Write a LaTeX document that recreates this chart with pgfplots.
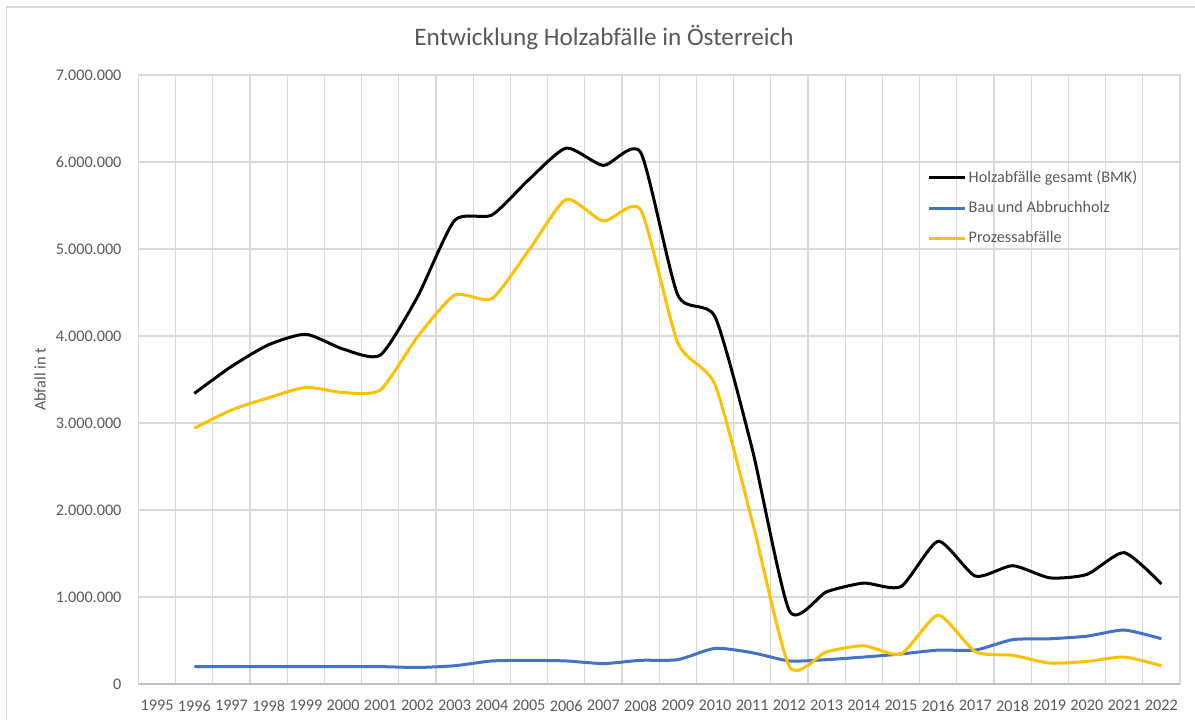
\documentclass[border=0pt]{standalone}
\usepackage{fontspec}
\setmainfont{Carlito}
\usepackage{pgfplots}
\usepackage{pgfplotstable}
\pgfplotsset{compat=1.18}
\definecolor{txt}{HTML}{595959}
\definecolor{gridc}{HTML}{D9D9D9}
\definecolor{axgray}{HTML}{BFBFBF}
\definecolor{exblue}{HTML}{4472C4}
\definecolor{exgold}{HTML}{FFC000}

\pgfplotstableread{
year total bau prozess
1996 3340000 200000 2940000
1997 3650000 200000 3150000
1998 3900000 200000 3290000
1999 4020000 200000 3410000
2000 3850000 200000 3350000
2001 3780000 200000 3380000
2002 4450000 190000 3990000
2003 5330000 210000 4470000
2004 5390000 265000 4430000
2005 5800000 272000 4990000
2006 6160000 265000 5570000
2007 5960000 235000 5320000
2008 6110000 272000 5450000
2009 4470000 280000 3920000
2010 4220000 410000 3440000
2011 2700000 360000 1870000
2012 840000 265000 200000
2013 1060000 280000 370000
2014 1160000 310000 440000
2015 1120000 345000 345000
2016 1640000 390000 790000
2017 1240000 390000 370000
2018 1360000 510000 330000
2019 1220000 520000 240000
2020 1260000 550000 260000
2021 1510000 620000 310000
2022 1150000 520000 210000
}\datatable

\begin{document}
\begin{tikzpicture}[x=1pt,y=1pt]
\useasboundingbox (0,0) rectangle (597.5,360);
\draw[gridc, line width=0.6pt] (3.25,0) -- (3.25,356.5) -- (597.5,356.5);
\begin{axis}[
  at={(69.25pt,18pt)}, anchor=south west, scale only axis,
  width=520.75pt, height=304.5pt,
  xmin=1994.5, xmax=2022.5, ymin=0, ymax=7000000,
  xtick={1995,...,2022},
  xticklabels={1995,1996,1997,1998,1999,2000,2001,2002,2003,2004,2005,2006,2007,2008,2009,2010,2011,2012,2013,2014,2015,2016,2017,2018,2019,2020,2021,2022},
  minor xtick={1995.5,1996.5,...,2021.5},
  xminorgrids=true,
  ymajorgrids=true,
  ytick={0,1000000,2000000,3000000,4000000,5000000,6000000,7000000},
  yticklabels={0,1.000.000,2.000.000,3.000.000,4.000.000,5.000.000,6.000.000,7.000.000},
  scaled y ticks=false,
  major tick length=0pt, minor tick length=0pt,
  tick style={draw=none},
  grid style={gridc, line width=0.6pt},
  minor grid style={gridc, line width=0.6pt},
  major grid style={gridc, line width=0.6pt},
  axis line style={gridc, line width=0.6pt},
  tick label style={font=\fontsize{8.1}{9.7}\selectfont, text=txt},
  yticklabel shift=5pt, xticklabel shift=4.5pt,
  legend cell align=left,
  legend image code/.code={\draw[#1] (0pt,0pt) -- (18pt,0pt);},
  legend style={at={(0.757,0.848)}, anchor=north west, draw=none, fill=none,
    font=\fontsize{8.1}{9.7}\selectfont, text=txt, row sep=5.5pt, inner sep=0pt,
    nodes={inner sep=1.2pt}},
]
\addplot[black, line width=1.5pt, smooth, tension=0.38] table[x=year, y=total] {\datatable};
\addlegendentry{Holzabfälle gesamt (BMK)}
\addplot[exblue, line width=1.5pt, smooth, tension=0.38] table[x=year, y=bau] {\datatable};
\addlegendentry{Bau und Abbruchholz}
\addplot[exgold, line width=1.5pt, smooth, tension=0.38] table[x=year, y=prozess] {\datatable};
\addlegendentry{Prozessabfälle}
\draw[axgray, line width=0.7pt] (rel axis cs:0,0) -- (rel axis cs:1,0);
\end{axis}
\node[font=\fontsize{12.6}{15}\selectfont, text=txt] at (302,341) {Entwicklung Holzabfälle in Österreich};
\node[rotate=90, font=\fontsize{8.1}{9.7}\selectfont, text=txt] at (20,170.25) {Abfall in t};
\end{tikzpicture}
\end{document}
